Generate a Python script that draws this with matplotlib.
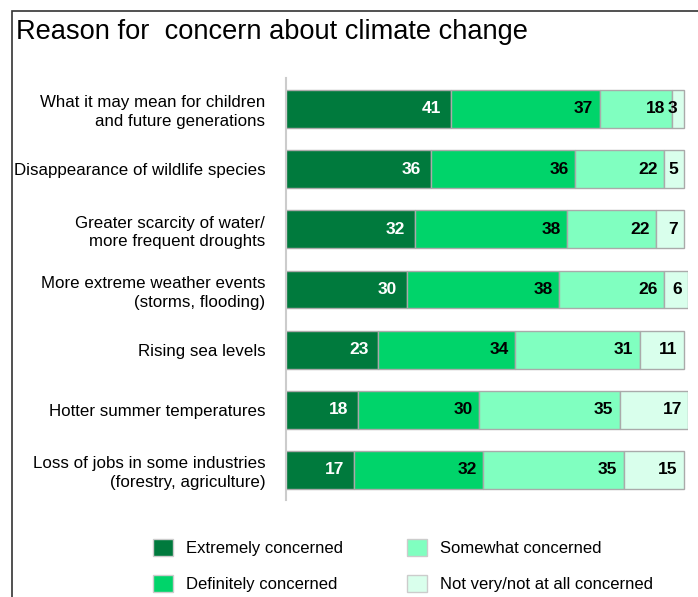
import matplotlib.pyplot as plt
from matplotlib.patches import Rectangle, Patch

categories = ['What it may mean for children\nand future generations',
              'Disappearance of wildlife species',
              'Greater scarcity of water/\nmore frequent droughts',
              'More extreme weather events\n(storms, flooding)',
              'Rising sea levels',
              'Hotter summer temperatures',
              'Loss of jobs in some industries\n(forestry, agriculture)']
extremely = [41, 36, 32, 30, 23, 18, 17]
definitely = [37, 36, 38, 38, 34, 30, 32]
somewhat = [18, 22, 22, 26, 31, 35, 35]
not_very = [3, 5, 7, 6, 11, 17, 15]

series = [('Extremely concerned', extremely, '#007A3D', 'white'),
          ('Definitely concerned', definitely, '#00D46A', 'black'),
          ('Somewhat concerned', somewhat, '#80FFC0', 'black'),
          ('Not very/not at all concerned', not_very, '#D9FFEC', 'black')]

plt.rcParams['font.family'] = ['Liberation Sans', 'DejaVu Sans']

fig = plt.figure(figsize=(6.98, 5.97), dpi=100)
ax = fig.add_axes([286 / 698, 1 - 500 / 597, 402 / 698, 422 / 597])

ypos = list(range(len(categories)))
left = [0] * len(categories)
for name, vals, color, tcolor in series:
    ax.barh(ypos, vals, left=left, height=0.63, color=color,
            edgecolor='#AAAAAA', linewidth=1, label=name)
    # white labels sit a bit further from the segment end
    off = -7 if tcolor == 'white' else -4.5
    for y, l, v in zip(ypos, left, vals):
        ax.annotate(str(v), (l + v, y), xytext=(off, 0), textcoords='offset points',
                    ha='right', va='center', color=tcolor, fontsize=12.5,
                    fontweight='bold')
    left = [a + b for a, b in zip(left, vals)]

ax.set_xlim(0, 100)
ax.set_ylim(6.5, -0.515)
ax.set_yticks(ypos)
ax.set_yticklabels(categories, fontsize=12.2, ha='right', linespacing=1.3)
ax.tick_params(axis='y', length=0, pad=15)
ax.set_xticks([])
for s in ['top', 'right', 'bottom']:
    ax.spines[s].set_visible(False)
ax.spines['left'].set_color('#CCCCCC')
ax.spines['left'].set_linewidth(1.5)

fig.text(16 / 698, 1 - 32 / 597, 'Reason for  concern about climate change',
         fontsize=19.6, va='center', ha='left')

# outer border
fig.patches.append(Rectangle((12 / 698, -0.1), 1.0, 1 - 11 / 597 + 0.1,
                             transform=fig.transFigure, fill=False,
                             edgecolor='#333333', linewidth=1.2))

handles = [Patch(facecolor=c, edgecolor='#CCCCCC', label=n) for n, _, c, _ in series]
fig.legend(handles=handles, ncol=2, loc='upper left',
           bbox_to_anchor=(138 / 698, 1 - 524 / 597), frameon=False,
           fontsize=12, handlelength=1.2, handleheight=1.2,
           handletextpad=0.8, columnspacing=3.8, labelspacing=1.1)

fig.savefig('out.png', dpi=100)
